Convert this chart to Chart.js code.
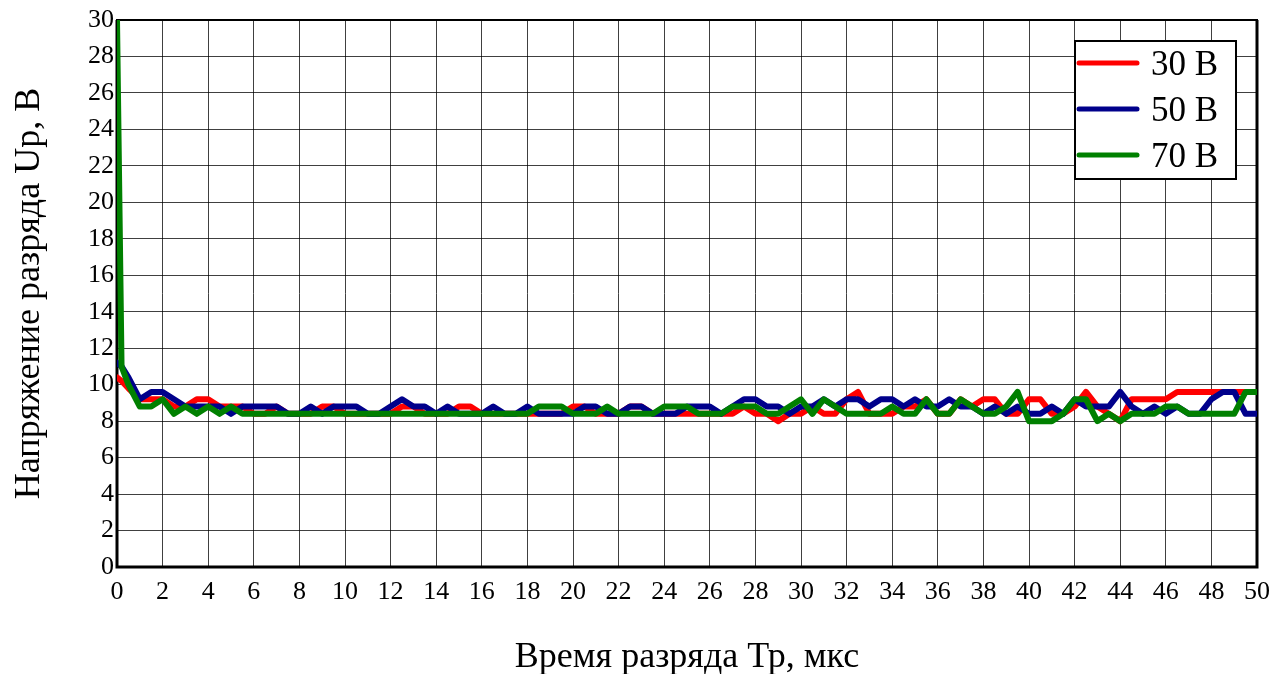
<!DOCTYPE html>
<html>
<head>
<meta charset="utf-8">
<script src="https://cdn.jsdelivr.net/npm/chart.js@4.4.1/dist/chart.umd.min.js"></script>
<style>
  html, body { margin: 0; padding: 0; background: #fff; }
  #wrap { width: 1282px; height: 674px; }
</style>
</head>
<body>
<div id="wrap"><canvas id="graph" width="1282" height="674"></canvas></div>
<script>
// Время разряда, мкс
const times = [0, 0.2, 0.5, 1, 1.5, 2, 2.5, 3, 3.5, 4,
	4.5, 5, 5.5, 6, 6.5, 7, 7.5, 8, 8.5, 9,
	9.5, 10, 10.5, 11, 11.5, 12, 12.5, 13, 13.5, 14,
	14.5, 15, 15.5, 16, 16.5, 17, 17.5, 18, 18.5, 19,
	19.5, 20, 20.5, 21, 21.5, 22, 22.5, 23, 23.5, 24,
	24.5, 25, 25.5, 26, 26.5, 27, 27.5, 28, 28.5, 29,
	29.5, 30, 30.5, 31, 31.5, 32, 32.5, 33, 33.5, 34,
	34.5, 35, 35.5, 36, 36.5, 37, 37.5, 38, 38.5, 39,
	39.5, 40, 40.5, 41, 41.5, 42, 42.5, 43, 43.5, 44,
	44.5, 45, 45.5, 46, 46.5, 47, 47.5, 48, 48.5, 49,
	49.5, 50];

// Напряжение разряда, В
const u30 = [10.4, 10.2, 9.8, 9.2, 9.2, 9.2, 8.8, 8.8, 9.2, 9.2,
	8.8, 8.8, 8.8, 8.4, 8.4, 8.8, 8.4, 8.4, 8.4, 8.8,
	8.8, 8.4, 8.4, 8.4, 8.4, 8.4, 8.8, 8.8, 8.4, 8.4,
	8.4, 8.8, 8.8, 8.4, 8.4, 8.4, 8.4, 8.4, 8.4, 8.4,
	8.4, 8.8, 8.8, 8.4, 8.4, 8.4, 8.8, 8.8, 8.4, 8.4,
	8.4, 8.4, 8.4, 8.4, 8.4, 8.4, 8.8, 8.4, 8.4, 8.0,
	8.4, 8.4, 8.8, 8.4, 8.4, 9.2, 9.6, 8.4, 8.4, 8.4,
	8.8, 8.8, 9.2, 8.4, 8.4, 9.2, 8.8, 9.2, 9.2, 8.4,
	8.4, 9.2, 9.2, 8.4, 8.4, 8.8, 9.6, 8.8, 8.4, 8.0,
	9.2, 9.2, 9.2, 9.2, 9.6, 9.6, 9.6, 9.6, 9.6, 9.6,
	9.6, 9.6];

const u50 = [11.2, 11.0, 10.4, 9.2, 9.6, 9.6, 9.2, 8.8, 8.8, 8.8,
	8.8, 8.4, 8.8, 8.8, 8.8, 8.8, 8.4, 8.4, 8.8, 8.4,
	8.8, 8.8, 8.8, 8.4, 8.4, 8.8, 9.2, 8.8, 8.8, 8.4,
	8.8, 8.4, 8.4, 8.4, 8.8, 8.4, 8.4, 8.8, 8.4, 8.4,
	8.4, 8.4, 8.8, 8.8, 8.4, 8.4, 8.8, 8.8, 8.4, 8.4,
	8.4, 8.8, 8.8, 8.8, 8.4, 8.8, 9.2, 9.2, 8.8, 8.8,
	8.4, 8.8, 8.8, 9.2, 8.8, 9.2, 9.2, 8.8, 9.2, 9.2,
	8.8, 9.2, 8.8, 8.8, 9.2, 8.8, 8.8, 8.4, 8.8, 8.4,
	8.8, 8.4, 8.4, 8.8, 8.4, 9.2, 8.8, 8.8, 8.8, 9.6,
	8.8, 8.4, 8.8, 8.4, 8.8, 8.4, 8.4, 9.2, 9.6, 9.6,
	8.4, 8.4];

const u70 = [30, 11.0, 10.0, 8.8, 8.8, 9.2, 8.4, 8.8, 8.4, 8.8,
	8.4, 8.8, 8.4, 8.4, 8.4, 8.4, 8.4, 8.4, 8.4, 8.4,
	8.4, 8.4, 8.4, 8.4, 8.4, 8.4, 8.4, 8.4, 8.4, 8.4,
	8.4, 8.4, 8.4, 8.4, 8.4, 8.4, 8.4, 8.4, 8.8, 8.8,
	8.8, 8.4, 8.4, 8.4, 8.8, 8.4, 8.4, 8.4, 8.4, 8.8,
	8.8, 8.8, 8.4, 8.4, 8.4, 8.8, 8.8, 8.8, 8.4, 8.4,
	8.8, 9.2, 8.4, 9.2, 8.8, 8.4, 8.4, 8.4, 8.4, 8.8,
	8.4, 8.4, 9.2, 8.4, 8.4, 9.2, 8.8, 8.4, 8.4, 8.8,
	9.6, 8.0, 8.0, 8.0, 8.4, 9.2, 9.2, 8.0, 8.4, 8.0,
	8.4, 8.4, 8.4, 8.8, 8.8, 8.4, 8.4, 8.4, 8.4, 8.4,
	9.6, 9.6];

const seriesNames = ['30 В', '50 В', '70 В'];
const seriesColors = ['#ff0000', '#00008b', '#008000'];

const serif = "'Liberation Serif', 'DejaVu Serif', serif";

function toPoints(vals) {
	return vals.map((v, i) => ({ x: times[i], y: v }));
}

// рамка графика (под линиями)
const frame = {
	id: 'frame',
	beforeDatasetsDraw(chart) {
		const a = chart.chartArea, ctx = chart.ctx;
		ctx.save();
		ctx.strokeStyle = '#000';
		ctx.lineWidth = 2;
		ctx.strokeRect(a.left, a.top, a.right - a.left, a.bottom - a.top);
		ctx.lineWidth = 3;
		ctx.beginPath();
		ctx.moveTo(a.left, a.top);
		ctx.lineTo(a.left, a.bottom);
		ctx.lineTo(a.right, a.bottom);
		ctx.lineTo(a.right, a.top);
		ctx.stroke();
		ctx.restore();
	}
};

// легенда в правом верхнем углу
const boxLegend = {
	id: 'boxLegend',
	afterDraw(chart) {
		const a = chart.chartArea, ctx = chart.ctx;
		const w = 161, h = 138;
		const x = a.right - 21 - w, y = a.top + 21;
		ctx.save();
		ctx.fillStyle = '#fff';
		ctx.fillRect(x, y, w, h);
		ctx.strokeStyle = '#000';
		ctx.lineWidth = 2;
		ctx.strokeRect(x, y, w, h);
		ctx.font = '35px ' + serif;
		ctx.textBaseline = 'alphabetic';
		ctx.lineCap = 'round';
		chart.data.datasets.forEach((ds, i) => {
			const ly = y + 22 + i * 46;
			ctx.strokeStyle = ds.borderColor;
			ctx.lineWidth = 5;
			ctx.beginPath();
			ctx.moveTo(x + 4, ly);
			ctx.lineTo(x + 62, ly);
			ctx.stroke();
			ctx.fillStyle = '#000';
			ctx.fillText(ds.label, x + 76, ly + 12);
		});
		ctx.restore();
	}
};

const config = {
	type: 'line',
	data: {
		datasets: [
			{ label: seriesNames[0], data: toPoints(u30), borderColor: seriesColors[0], order: 2 },
			{ label: seriesNames[1], data: toPoints(u50), borderColor: seriesColors[1], order: 1 },
			{ label: seriesNames[2], data: toPoints(u70), borderColor: seriesColors[2], order: 0 }
		]
	},
	options: {
		responsive: false,
		animation: false,
		elements: {
			point: { radius: 0 },
			line: { borderWidth: 6, tension: 0, borderJoinStyle: 'round', borderCapStyle: 'round' }
		},
		layout: { padding: { top: 20, right: 25, left: 0, bottom: 0 } },
		plugins: {
			legend: { display: false },
			tooltip: { enabled: false }
		},
		scales: {
			x: {
				type: 'linear',
				min: 0, max: 50,
				afterFit(scale) { scale.height = 107; },
				ticks: { stepSize: 2, color: '#000', font: { family: serif, size: 26 }, padding: 10, maxRotation: 0 },
				grid: { color: 'rgba(0,0,0,0.75)', lineWidth: 1, drawTicks: false },
				border: { display: false },
				title: { display: true, text: 'Время разряда Тр, мкс', color: '#000',
					font: { family: serif, size: 36, lineHeight: 0.9 }, padding: 0 }
			},
			y: {
				min: 0, max: 30,
				afterFit(scale) { scale.width = 117; },
				ticks: { stepSize: 2, color: '#000', font: { family: serif, size: 26 }, padding: 3 },
				grid: { color: 'rgba(0,0,0,0.75)', lineWidth: 1, drawTicks: false },
				border: { display: false },
				title: { display: true, text: 'Напряжение разряда Up, В', color: '#000',
					font: { family: serif, size: 36, lineHeight: 1 }, padding: { top: 12, bottom: 0 } }
			}
		}
	},
	plugins: [frame, boxLegend]
};

var ctx = document.getElementById('graph').getContext('2d');
window.myLine = new Chart(ctx, config);
</script>
</body>
</html>
